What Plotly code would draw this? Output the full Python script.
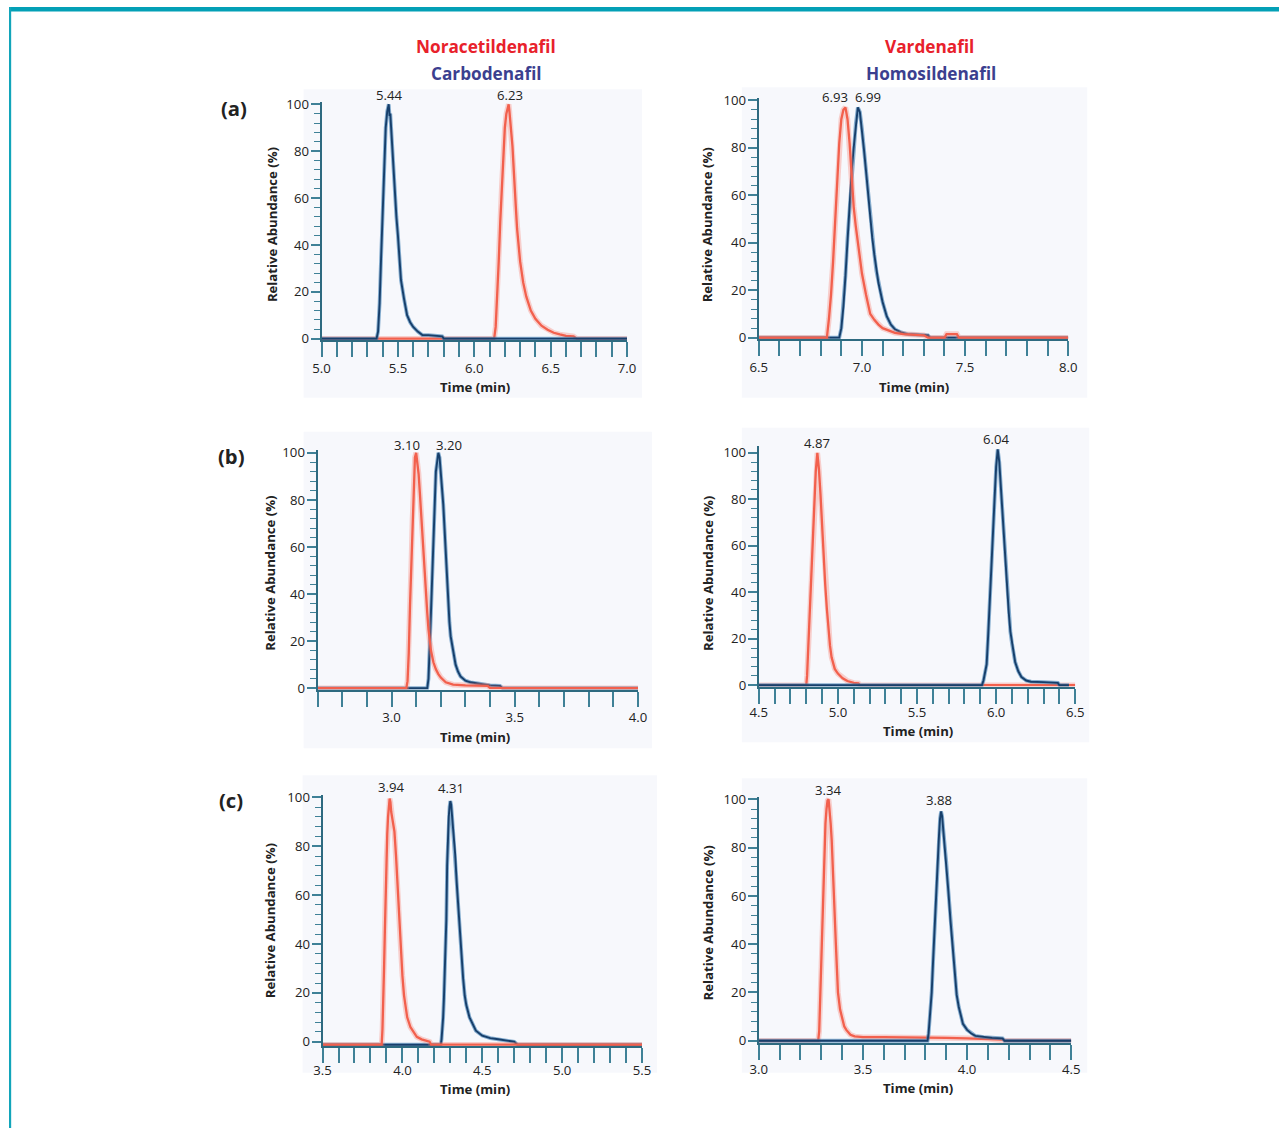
import plotly.graph_objects as go

# The photographed page shows the figure inside an 8px body margin and the whole
# 1304x1151 capture is scaled to 1288x1135; positions below are target-picture
# pixels and are converted through that mapping.
W, H = 1288, 1135
OFF = 8
SX, SY = 1288 / 1304, 1135 / 1151
K = 1 / SX  # size compensation for fonts / tick lengths

# ---------------- data ----------------
COL_TITLES_LEFT = ["Noracetildenafil", "Carbodenafil"]
COL_TITLES_RIGHT = ["Vardenafil", "Homosildenafil"]
ROW_LABELS = ["(a)", "(b)", "(c)"]

# (a) left
NOR_A_T = [5.00, 6.13, 6.14, 6.15, 6.16, 6.17, 6.18, 6.19, 6.20, 6.21, 6.22, 6.225, 6.23, 6.24, 6.25, 6.26,
           6.27, 6.28, 6.30, 6.32, 6.34, 6.37, 6.40, 6.44, 6.48, 6.52, 6.56, 6.60, 6.65, 6.67, 7.00]
NOR_A_Y = [0, 0, 5, 17, 33, 50, 65, 80, 90, 96, 99, 100, 97, 90, 82, 70,
           57, 47, 33, 24, 18, 12, 8.5, 5.5, 3.8, 2.5, 1.8, 1.2, 1, 0, 0]
CARB_A_T = [5.00, 5.36, 5.37, 5.38, 5.39, 5.40, 5.41, 5.42, 5.43, 5.44, 5.445, 5.45, 5.46, 5.47, 5.48, 5.49,
            5.50, 5.52, 5.54, 5.56, 5.58, 5.60, 5.63, 5.66, 5.70, 5.76, 5.79, 5.80, 7.00]
CARB_A_Y = [0, 0, 3, 15, 35, 55, 75, 90, 97, 100, 95, 96, 85, 72, 60, 52,
            44, 25, 17, 10, 7, 5, 3, 1.5, 1.5, 1.2, 1, 0, 0]

# (a) right
VAR_A_T = [6.50, 6.83, 6.84, 6.85, 6.86, 6.87, 6.88, 6.89, 6.90, 6.91, 6.92, 6.93, 6.94, 6.95, 6.96, 6.97,
           6.98, 6.99, 7.00, 7.02, 7.04, 7.06, 7.08, 7.10, 7.13, 7.16, 7.20, 7.25, 7.30, 7.32, 7.40, 7.41,
           7.46, 7.47, 8.00]
VAR_A_Y = [0, 0, 8, 18, 32, 48, 66, 82, 92, 96, 97, 92, 82, 66, 55, 47,
           40, 33, 27, 18, 10, 7.5, 5.5, 4, 3, 2, 1.5, 1.2, 1, 0, 0, 1.5,
           1.5, 0, 0]
HOMO_A_T = [6.50, 6.89, 6.90, 6.91, 6.92, 6.93, 6.94, 6.95, 6.96, 6.97, 6.98, 6.99, 7.00, 7.01, 7.02, 7.03,
            7.04, 7.05, 7.06, 7.07, 7.08, 7.09, 7.10, 7.12, 7.14, 7.16, 7.19, 7.22, 7.27, 7.32, 7.33, 8.00]
HOMO_A_Y = [0, 0, 4, 13, 26, 42, 55, 70, 80, 90, 97, 95, 88, 79, 70, 60,
            50, 42, 35, 28, 23, 19, 15, 9, 5.5, 3.5, 2.2, 1.5, 1.2, 1, 0, 0]

# (b) left
NOR_B_T = [2.70, 3.06, 3.065, 3.07, 3.075, 3.08, 3.085, 3.09, 3.095, 3.10, 3.105, 3.11, 3.115, 3.12, 3.125,
           3.13, 3.135, 3.14, 3.145, 3.15, 3.155, 3.16, 3.17, 3.18, 3.19, 3.20, 3.22, 3.25, 3.30, 3.35,
           3.39, 3.40, 4.00]
NOR_B_Y = [0, 0, 3, 15, 35, 52, 72, 88, 98, 100, 96, 91, 83, 74, 64,
           56, 48, 40, 32, 25, 20, 16, 11, 8, 6, 4.5, 2.5, 1.5, 1.2, 1,
           1, 0, 0]
CARB_B_T = [2.70, 3.145, 3.15, 3.155, 3.16, 3.165, 3.17, 3.175, 3.18, 3.185, 3.19, 3.195, 3.20, 3.205, 3.21,
            3.215, 3.22, 3.225, 3.23, 3.235, 3.24, 3.25, 3.26, 3.27, 3.28, 3.30, 3.32, 3.35, 3.40, 3.44,
            3.45, 4.00]
CARB_B_Y = [0, 0, 4, 15, 32, 47, 63, 80, 92, 96, 100, 98, 92, 86, 78,
            68, 58, 42, 36, 28, 22, 15, 10, 7, 5, 3.2, 2.5, 2, 1.2, 1,
            0, 0]

# (b) right
VAR_B_T = [4.50, 4.80, 4.805, 4.81, 4.815, 4.82, 4.83, 4.84, 4.85, 4.86, 4.87, 4.88, 4.89, 4.90, 4.91, 4.92,
           4.93, 4.94, 4.95, 4.96, 4.98, 5.00, 5.03, 5.06, 5.10, 5.13, 5.14, 6.50]
VAR_B_Y = [0, 0, 4, 12, 20, 30, 47, 64, 78, 92, 100, 93, 82, 68, 55, 43,
           33, 23, 17, 12, 7, 5, 3, 1.8, 1, 0.8, 0, 0]
HOMO_B_T = [4.50, 5.91, 5.92, 5.93, 5.94, 5.95, 5.96, 5.97, 5.98, 5.99, 6.00, 6.01, 6.02, 6.03, 6.04, 6.05,
            6.06, 6.07, 6.08, 6.09, 6.10, 6.12, 6.14, 6.16, 6.19, 6.22, 6.30, 6.39, 6.40, 6.46]
HOMO_B_Y = [0, 0, 2, 5, 9, 22, 38, 53, 68, 80, 94, 101.5, 96, 85, 75, 63,
            51, 39, 31, 23, 18, 10, 6, 3.5, 2, 1.5, 1.3, 1, 0, 0]

# (c) left
NOR_C_T = [3.50, 3.87, 3.875, 3.88, 3.885, 3.89, 3.895, 3.90, 3.905, 3.91, 3.915, 3.92, 3.925, 3.93, 3.94,
           3.95, 3.96, 3.97, 3.98, 3.99, 4.00, 4.01, 4.02, 4.03, 4.05, 4.07, 4.09, 4.12, 4.15, 4.17, 4.18, 5.50]
NOR_C_Y = [-1.2, -1.2, 5, 15, 30, 45, 62, 75, 85, 92, 97, 99.5, 98, 94, 90,
           86, 76, 63, 50, 38, 27, 19, 14, 10, 6, 4, 2, 1, 0.5, 0, -1.2, -1.2]
CARB_C_T = [3.50, 4.24, 4.245, 4.25, 4.255, 4.26, 4.265, 4.27, 4.275, 4.28, 4.285, 4.29, 4.295, 4.30, 4.305,
            4.31, 4.32, 4.33, 4.34, 4.35, 4.36, 4.37, 4.38, 4.39, 4.40, 4.42, 4.44, 4.46, 4.50, 4.55, 4.60,
            4.70, 4.72, 5.50]
CARB_C_Y = [-1.2, -1.2, 1, 5, 10, 18, 28, 38, 50, 72, 84, 92, 96, 98.5, 97,
            93, 85, 77, 65, 55, 44, 36, 26, 19, 15, 10, 7, 4.5, 2.5, 1.5, 1,
            0, -1.2, -1.2]

# (c) right
VAR_C_T = [3.00, 3.285, 3.29, 3.295, 3.30, 3.305, 3.31, 3.315, 3.32, 3.325, 3.33, 3.335, 3.34, 3.345, 3.35,
           3.355, 3.36, 3.365, 3.37, 3.375, 3.38, 3.39, 3.40, 3.41, 3.42, 3.44, 3.46, 3.50, 3.60, 3.70,
           3.80, 3.90, 4.00, 4.10, 4.17, 4.18, 4.50]
VAR_C_Y = [0, 0, 4, 18, 38, 55, 68, 80, 90, 96, 99.5, 100, 96, 90, 83,
           70, 58, 47, 40, 30, 20, 13, 9, 6, 4.5, 2.5, 1.8, 1.5, 1.5, 1.5,
           1.5, 1.2, 1, 0.8, 0.5, 0, 0]
HOMO_C_T = [3.00, 3.81, 3.815, 3.82, 3.825, 3.83, 3.835, 3.84, 3.845, 3.85, 3.855, 3.86, 3.865, 3.87, 3.875,
            3.88, 3.885, 3.89, 3.895, 3.90, 3.91, 3.92, 3.93, 3.94, 3.95, 3.96, 3.97, 3.98, 4.00, 4.02,
            4.04, 4.08, 4.12, 4.17, 4.18, 4.50]
HOMO_C_Y = [0, 0, 3, 8, 14, 20, 30, 40, 48, 55, 65, 75, 85, 92, 95,
            93, 88, 84, 80, 74, 62, 50, 40, 28, 19, 14, 10, 7, 4.5, 3,
            2, 1.5, 1.2, 1, 0, 0]

PEAK_LABELS = [["5.44", "6.23"], ["6.93", "6.99"], ["3.10", "3.20"],
               ["4.87", "6.04"], ["3.94", "4.31"], ["3.34", "3.88"]]

# ---------------- layout geometry (target pixels in the 1288x1135 picture) ----------------
panels = [
    dict(red=(NOR_A_T, NOR_A_Y), blue=(CARB_A_T, CARB_A_Y), xr=[5.0, 7.0], px=(321, 627), py0=339, py100=105,
         yr=[-0.6, 101], top="blue", peaks=[(389, 96), (510, 96)], xt=(475, 387), yt=(272, 225),
         bg=(303, 90, 642, 398), lab=0),
    dict(red=(VAR_A_T, VAR_A_Y), blue=(HOMO_A_T, HOMO_A_Y), xr=[6.5, 8.0], px=(759, 1069), py0=338, py100=101,
         yr=[-0.6, 101], top="red", peaks=[(835, 98), (868, 98)], xt=(914, 387), yt=(708, 225),
         bg=(742, 88, 1088, 398), lab=0),
    dict(red=(NOR_B_T, NOR_B_Y), blue=(CARB_B_T, CARB_B_Y), xr=[2.7, 4.0], px=(317, 638), py0=688, py100=453,
         yr=[-0.6, 101], top="red", peaks=[(407, 445), (449, 445)], xt=(475, 737), yt=(269, 573),
         bg=(303, 432, 652, 748), lab=0),
    dict(red=(VAR_B_T, VAR_B_Y), blue=(HOMO_B_T, HOMO_B_Y), xr=[4.5, 6.5], px=(759, 1076), py0=685, py100=453,
         yr=[-0.6, 103], top="blue", peaks=[(817, 443), (997, 439)], xt=(918, 731), yt=(708, 573),
         bg=(742, 428, 1090, 742), lab=-2),
    dict(red=(NOR_C_T, NOR_C_Y), blue=(CARB_C_T, CARB_C_Y), xr=[3.5, 5.5], px=(322, 642), py0=1041, py100=797,
         yr=[-1.8, 101], top="red", peaks=[(391, 787), (451, 788)], xt=(475, 1088), yt=(269, 920),
         bg=(302, 775, 657, 1072), lab=-4),
    dict(red=(VAR_C_T, VAR_C_Y), blue=(HOMO_C_T, HOMO_C_Y), xr=[3.0, 4.5], px=(759, 1072), py0=1040, py100=799,
         yr=[-1.0, 101], top="blue", peaks=[(829, 790), (940, 800)], xt=(918, 1087), yt=(708, 922),
         bg=(742, 778, 1088, 1072), lab=-2),
]

FONT = "Open Sans, Noto Sans, sans-serif"
RED_CORE, RED_GLOW = "#f2604d", "rgba(246,130,115,0.35)"
BLUE_CORE, BLUE_GLOW = "#173f6b", "rgba(60,125,178,0.6)"
AXIS_COL, TICK_COL = "#2e6a80", "#3f8197"
BG_COL = "#f7f8fc"
FS = 13 * K


def xp(px):
    return (px / SX - OFF) / W


def yp(py):
    return 1 - (py / SY - OFF) / H


fig = go.Figure()
shapes = []
annotations = []

# frame (top teal band and thin left rule)
shapes.append(dict(type="rect", xref="paper", yref="paper", x0=0, x1=1, y0=1 - 4.5 / H, y1=1,
                   fillcolor="#03a0b6", line=dict(width=0), layer="below"))
shapes.append(dict(type="rect", xref="paper", yref="paper", x0=0, x1=2.2 / W, y0=0, y1=1,
                   fillcolor="#12a5ba", line=dict(width=0), layer="below"))

layout_axes = {}
for i, p in enumerate(panels, start=1):
    xs = "" if i == 1 else str(i)
    xa, ya = "x" + xs, "y" + xs

    def vpy(v, p=p):
        return p["py0"] - v * (p["py0"] - p["py100"]) / 100.0

    xdom = [xp(p["px"][0]), xp(p["px"][1])]
    ydom = [yp(vpy(p["yr"][0])), yp(vpy(p["yr"][1]))]

    order = ["red", "blue"] if p["top"] == "blue" else ["blue", "red"]
    for key in order:
        t, y = p[key]
        glow, core, wg, wc = ((RED_GLOW, RED_CORE, 5.5, 2.3) if key == "red"
                              else (BLUE_GLOW, BLUE_CORE, 3.8, 1.9))
        fig.add_trace(go.Scatter(x=t, y=y, mode="lines", line=dict(color=glow, width=wg),
                                 xaxis=xa, yaxis=ya, hoverinfo="skip", showlegend=False))
        fig.add_trace(go.Scatter(x=t, y=y, mode="lines", line=dict(color=core, width=wc),
                                 xaxis=xa, yaxis=ya, hoverinfo="skip", showlegend=False))

    layout_axes["xaxis" + xs] = dict(
        domain=xdom, range=p["xr"], anchor=ya, showgrid=False, zeroline=False,
        showline=True, linecolor=AXIS_COL, linewidth=2,
        ticks="outside", ticklen=15, tickwidth=2, tickcolor=TICK_COL,
        tick0=0, dtick=0.5, tickformat=".1f", ticklabelstandoff=p["lab"],
        minor=dict(ticks="outside", tick0=0, dtick=0.1, ticklen=15, tickwidth=2, tickcolor=TICK_COL),
        tickfont=dict(family=FONT, size=FS, color="#222222"), fixedrange=True)
    layout_axes["yaxis" + xs] = dict(
        domain=ydom, range=p["yr"], anchor=xa, showgrid=False, zeroline=False,
        showline=True, linecolor=AXIS_COL, linewidth=2,
        ticks="outside", ticklen=9, tickwidth=1.6, tickcolor=TICK_COL,
        tick0=0, dtick=20, ticklabelstandoff=-1,
        minor=dict(ticks="outside", tick0=0, dtick=4, ticklen=6, tickwidth=1.4, tickcolor=TICK_COL),
        tickfont=dict(family=FONT, size=FS, color="#222222"), fixedrange=True)

    bx0, by0, bx1, by1 = p["bg"]
    shapes.append(dict(type="rect", xref="paper", yref="paper", x0=xp(bx0), x1=xp(bx1),
                       y0=yp(by1), y1=yp(by0), fillcolor=BG_COL, line=dict(width=0), layer="below"))

    for txt, (qx, qy) in zip(PEAK_LABELS[i - 1], p["peaks"]):
        annotations.append(dict(text=txt, xref="paper", yref="paper", x=xp(qx), y=yp(qy),
                                xanchor="center", yanchor="middle", showarrow=False,
                                font=dict(family=FONT, size=FS, color="#222222")))
    annotations.append(dict(text="<b>Time (min)</b>", xref="paper", yref="paper",
                            x=xp(p["xt"][0]), y=yp(p["xt"][1]), xanchor="center", yanchor="middle",
                            showarrow=False, font=dict(family=FONT, size=FS, color="#222222")))
    annotations.append(dict(text="<b>Relative Abundance (%)</b>", xref="paper", yref="paper",
                            x=xp(p["yt"][0]), y=yp(p["yt"][1]), xanchor="center", yanchor="middle",
                            textangle=-90, showarrow=False,
                            font=dict(family=FONT, size=FS, color="#222222")))

# column titles
for txt, col, (qx, qy) in [(COL_TITLES_LEFT[0], "#e8212b", (486, 47)),
                           (COL_TITLES_LEFT[1], "#3b3f8f", (486, 74)),
                           (COL_TITLES_RIGHT[0], "#e8212b", (930, 47)),
                           (COL_TITLES_RIGHT[1], "#3b3f8f", (931, 74))]:
    annotations.append(dict(text="<b>" + txt + "</b>", xref="paper", yref="paper", x=xp(qx), y=yp(qy),
                            xanchor="center", yanchor="middle", showarrow=False,
                            font=dict(family=FONT, size=17 * K, color=col)))

# row labels
for txt, (qx, qy) in zip(ROW_LABELS, [(233, 109), (231, 456), (230, 800)]):
    annotations.append(dict(text="<b>" + txt + "</b>", xref="paper", yref="paper", x=xp(qx), y=yp(qy),
                            xanchor="center", yanchor="middle", showarrow=False,
                            font=dict(family=FONT, size=20 * K, color="#222222")))

fig.update_layout(
    width=W, height=H, margin=dict(l=0, r=0, t=0, b=0),
    paper_bgcolor="white", plot_bgcolor="rgba(0,0,0,0)",
    shapes=shapes, annotations=annotations, showlegend=False,
    **layout_axes)

fig.write_html("out.html", config={"displayModeBar": False})
